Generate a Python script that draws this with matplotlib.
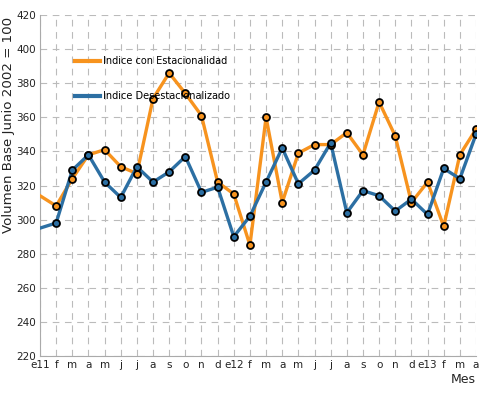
import numpy as np
import matplotlib
matplotlib.use("Agg")
import matplotlib.pyplot as plt

# ==============================
# DATA
# ==============================

meses = ["e11", "f", "m", "a", "m", "j", "j", "a", "s", "o", "n", "d",
         "e12", "f", "m", "a", "m", "j", "j", "a", "s", "o", "n", "d",
         "e13", "f", "m", "a"]

con_estacionalidad = [314, 308, 324, 338, 341, 331, 327, 371, 386, 374, 361, 322,
                      315, 285, 360, 310, 339, 344, 344, 351, 338, 369, 349, 310,
                      322, 296, 338, 353]

desestacionalizado = [295, 298, 329, 338, 322, 313, 331, 322, 328, 337, 316, 319,
                      290, 302, 322, 342, 321, 329, 345, 304, 317, 314, 305, 312,
                      303, 330, 324, 350]

NARANJA = "#f7931e"
AZUL = "#2c6fa3"

# ==============================
# PLOT
# ==============================

W, H = 483, 397
fig = plt.figure(figsize=(W / 100, H / 100), dpi=100)
ax = fig.add_axes([40 / W, 1 - 356 / H, 436 / W, 341 / H])

x = np.arange(len(meses))

for serie, color, nombre in [(con_estacionalidad, NARANJA, "Indice con Estacionalidad"),
                             (desestacionalizado, AZUL, "Indice Desestacionalizado")]:
    ax.plot(x, serie, color=color, lw=2.4, label=nombre, zorder=3)
    ax.plot(x[1:], serie[1:], ls="none", marker="o", ms=5, mfc=color,
            mec="black", mew=1.3, zorder=4)

ax.set_xlim(0, len(meses) - 1)
ax.set_ylim(220, 420)
ax.set_yticks(np.arange(220, 421, 20))
ax.set_xticks(x)
ax.set_xticklabels(meses)

ax.grid(True, color="#bbbbbb", ls=(0, (6, 5)), lw=0.8)
ax.set_axisbelow(True)
for s in ["top", "right"]:
    ax.spines[s].set_visible(False)
for s in ["left", "bottom"]:
    ax.spines[s].set_color("#aaaaaa")
ax.tick_params(length=0, labelsize=7.5, colors="#222222", pad=3)

ax.set_xlabel("Mes", loc="right", fontsize=9, color="#222222", labelpad=2)
fig.text(9 / W, 1 - 125 / H, "Volumen Base Junio 2002 = 100", rotation=90,
         ha="center", va="center", fontsize=9.6, color="#222222")

leg = ax.legend(loc="upper left", bbox_to_anchor=(0.06, 0.905), frameon=False,
                fontsize=7, handlelength=2.6, handletextpad=0.3, labelspacing=2.6)
for h in leg.get_lines():
    h.set_linewidth(3)

fig.savefig("out.png", dpi=100)
